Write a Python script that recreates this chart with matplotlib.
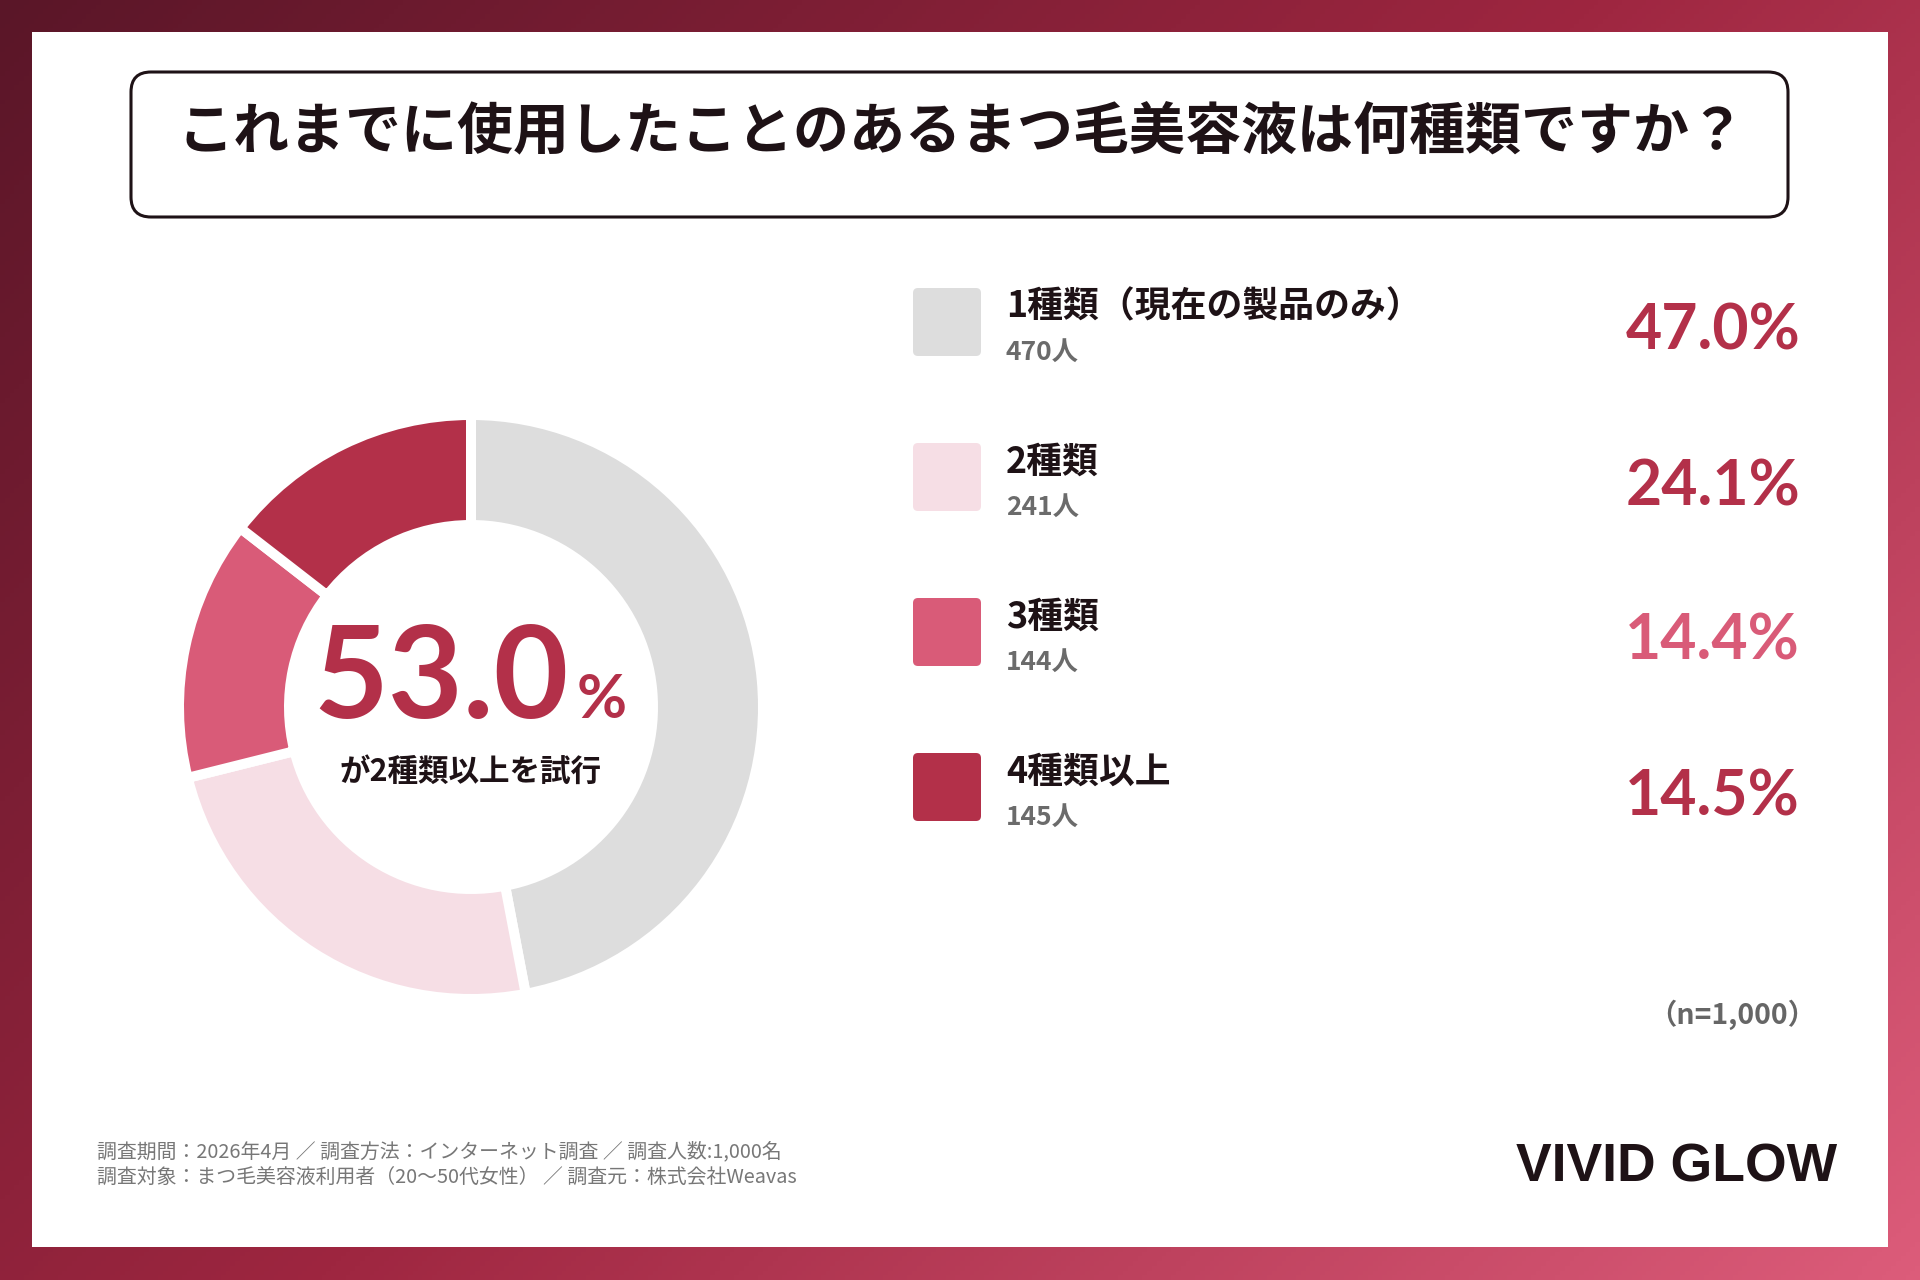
import numpy as np
import matplotlib.pyplot as plt
from matplotlib.patches import FancyBboxPatch, Rectangle
from matplotlib.colors import LinearSegmentedColormap

plt.rcParams['font.family'] = ['Noto Sans CJK JP', 'DejaVu Sans']

# ---------------------------- dados ----------------------------
titulo = "これまでに使用したことのあるまつ毛美容液は何種類ですか？"
categorias = ["1種類（現在の製品のみ）", "2種類", "3種類", "4種類以上"]
pessoas = [470, 241, 144, 145]
percentuais = [47.0, 24.1, 14.4, 14.5]
cores = ["#dddddd", "#f6dee5", "#d95b78", "#b33049"]
cores_pct = ["#b33049", "#b33049", "#d95b78", "#b33049"]
destaque = 53.0
destaque_txt = "が2種類以上を試行"
amostra = "（n=1,000）"
rodape = ["調査期間：2026年4月 ／ 調査方法：インターネット調査 ／ 調査人数:1,000名",
          "調査対象：まつ毛美容液利用者（20〜50代女性） ／ 調査元：株式会社Weavas"]
marca = "VIVID GLOW"

W, H = 1920, 1280
fig = plt.figure(figsize=(W / 100, H / 100), dpi=100)
ax = fig.add_axes([0, 0, 1, 1])
ax.set_xlim(0, W)
ax.set_ylim(H, 0)
ax.axis('off')

# fundo em degrade diagonal
xx, yy = np.meshgrid(np.linspace(0, 1, 400), np.linspace(0, 1, 270))
grad = (xx * W + yy * H) / (W + H)
cmap = LinearSegmentedColormap.from_list("fundo", ["#5a1628", "#9e2640", "#dc5c7a"])
ax.imshow(grad, cmap=cmap, extent=[0, W, H, 0], aspect='auto', zorder=0)
ax.add_patch(Rectangle((32, 32), 1856, 1215, facecolor='white', edgecolor='none', zorder=1))

# caixa do titulo
ax.add_patch(FancyBboxPatch((131, 72), 1657, 145, boxstyle="round,pad=0,rounding_size=20",
                            facecolor='white', edgecolor='#1e1216', linewidth=2.2, zorder=2))
ax.text(961, 133, titulo, ha='center', va='center', fontsize=40.3, fontweight='bold',
        color='#1e1216', zorder=3)

# ---------------------------- rosca ----------------------------
cx, cy, lado = 471, 707, 600
ax2 = fig.add_axes([(cx - lado / 2) / W, 1 - (cy + lado / 2) / H, lado / W, lado / H])
ax2.pie(percentuais, colors=cores, startangle=90, counterclock=False, radius=292,
        center=(0, 0), wedgeprops=dict(width=110, edgecolor='white', linewidth=7.2))
ax2.set_xlim(-lado / 2, lado / 2)
ax2.set_ylim(-lado / 2, lado / 2)
ax2.set_aspect('equal')
ax2.axis('off')

ax.text(569, 718, f"{destaque:.1f}", ha='right', va='baseline', fontsize=93,
        family='Lato', fontweight='bold', color='#b33049', zorder=5)
ax.text(577, 718, "%", ha='left', va='baseline', fontsize=44,
        family='Lato', fontweight='bold', color='#b33049', zorder=5)
ax.text(471, 772, destaque_txt, ha='center', va='center', fontsize=22,
        fontweight='bold', color='#1e1216', zorder=5)

# ---------------------------- legenda ----------------------------
for i in range(len(categorias)):
    y0 = 288 + i * 155
    ax.add_patch(FancyBboxPatch((913, y0), 68, 68, boxstyle="round,pad=0,rounding_size=5",
                                facecolor=cores[i], edgecolor='none', zorder=3))
    ax.text(1006, y0 + 19, categorias[i], ha='left', va='center', fontsize=25.8,
            fontweight='bold', color='#1e1216', zorder=3)
    ax.text(1006, y0 + 64, f"{pessoas[i]}人", ha='left', va='center', fontsize=19,
            fontweight='bold', color='#6b6b6b', zorder=3)
    ax.text(1800, y0 + 62, f"{percentuais[i]:.1f}%", ha='right', va='baseline', fontsize=45,
            family='Lato', fontweight='bold', color=cores_pct[i], zorder=3)

ax.text(1816, 1015, amostra, ha='right', va='center', fontsize=20.4, fontweight='bold',
        color='#666666', zorder=3)

# rodape
ax.text(97, 1152, rodape[0], ha='left', va='center', fontsize=14.3, color='#777777', zorder=3)
ax.text(97, 1177, rodape[1], ha='left', va='center', fontsize=14.3, color='#777777', zorder=3)
ax.text(1837, 1182, marca, ha='right', va='baseline', fontsize=38.5, family='Liberation Sans',
        fontweight='bold', color='#1e1216', zorder=3)

fig.savefig("out.png", dpi=100)
